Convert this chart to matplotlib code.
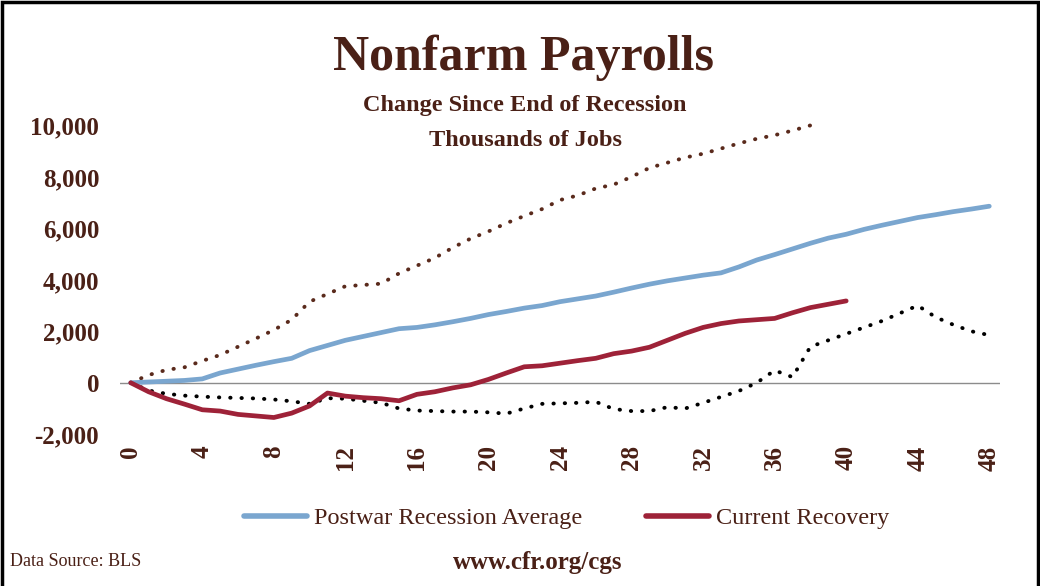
import matplotlib.pyplot as plt
from matplotlib.patches import Rectangle
from matplotlib.ticker import FuncFormatter

# months since end of recession
months_avg = list(range(49))
postwar_avg = [0, 30, 60, 90, 150, 380, 530, 680, 820, 950, 1250, 1450, 1650,
               1800, 1950, 2100, 2150, 2250, 2370, 2500, 2650, 2770, 2900, 3000,
               3150, 3260, 3370, 3520, 3680, 3830, 3960, 4070, 4180, 4270, 4500,
               4770, 4980, 5200, 5420, 5620, 5770, 5960, 6120, 6270, 6420, 6530,
               6650, 6750, 6860]

months_cur = list(range(41))
current = [0, -350, -620, -830, -1050, -1100, -1230, -1290, -1350, -1180, -900,
           -400, -520, -580, -620, -700, -450, -350, -200, -80, 130, 380, 620,
           660, 760, 860, 950, 1130, 1230, 1380, 1650, 1920, 2150, 2300, 2400,
           2450, 2500, 2720, 2920, 3050, 3180]

months_max = list(range(39))
postwar_max = [0, 300, 500, 600, 850, 1080, 1400, 1720, 2050, 2450, 3150, 3450,
               3750, 3800, 3850, 4250, 4550, 4850, 5250, 5600, 5880, 6200, 6480,
               6750, 7100, 7280, 7550, 7700, 8000, 8350, 8550, 8750, 8900, 9100,
               9300, 9480, 9620, 9800, 10000]

months_min = list(range(49))
postwar_min = [0, -300, -430, -500, -540, -570, -590, -610, -650, -720, -820,
               -600, -620, -700, -780, -1000, -1080, -1100, -1120, -1120, -1150,
               -1200, -1000, -820, -800, -780, -740, -1020, -1100, -1100, -950,
               -1000, -780, -550, -320, 0, 480, 220, 1400, 1650, 1900, 2150, 2400,
               2700, 3000, 2550, 2250, 2000, 1850]

x_ticks = list(range(0, 49, 4))
y_ticks = [-2000, 0, 2000, 4000, 6000, 8000, 10000]

brown = "#4a2016"
blue = "#7aa6cf"
red = "#9e2238"
serif = ["Liberation Serif", "DejaVu Serif"]

fig = plt.figure(figsize=(10.4, 5.86), dpi=100)
ax = fig.add_axes([120 / 1040, 0.259, 880 / 1040, 0.527])

ax.axhline(0, color="#8c8c8c", lw=1.0, zorder=1)
dots = (0, (0.1, 2.8))
ax.plot(months_max, postwar_max, color="#5a2a1c", lw=2.8, linestyle=dots,
        dash_capstyle="round", clip_on=False, zorder=2)
ax.plot(months_min, postwar_min, color="black", lw=2.8, linestyle=dots,
        dash_capstyle="round", clip_on=False, zorder=2)
ax.plot(months_avg, postwar_avg, color=blue, lw=3.4, solid_capstyle="round",
        label="Postwar Recession Average", zorder=3)
ax.plot(months_cur, current, color=red, lw=3.4, solid_capstyle="round",
        label="Current Recovery", zorder=3)

ax.set_xlim(-0.6, 48.6)
ax.set_ylim(-2000, 10000)
ax.set_xticks(x_ticks)
ax.set_yticks(y_ticks)
ax.yaxis.set_major_formatter(FuncFormatter(lambda v, p: f"{int(v):,}"))
for s in ax.spines.values():
    s.set_visible(False)
ax.tick_params(length=0)
ax.tick_params(axis="y", pad=15)
ax.tick_params(axis="x", pad=8)
for lab in ax.get_yticklabels() + ax.get_xticklabels():
    lab.set_fontfamily(serif)
    lab.set_fontweight("bold")
    lab.set_fontsize(18)
    lab.set_color(brown)
for lab in ax.get_xticklabels():
    lab.set_rotation(90)

leg = fig.legend(loc="center", bbox_to_anchor=(0.545, 1 - 518 / 586), ncol=2,
                 frameon=False, handlelength=2.6, handletextpad=0.3,
                 columnspacing=2.6, prop={"family": serif, "size": 17.5})
for t in leg.get_texts():
    t.set_color(brown)
for h in leg.get_lines():
    h.set_linewidth(4)

fig.text(0.503, 1 - 58 / 586, "Nonfarm Payrolls", ha="center", va="center",
         family=serif, fontweight="bold", fontsize=36, color=brown)
fig.text(0.505, 1 - 105 / 586, "Change Since End of Recession", ha="center",
         va="center", family=serif, fontweight="bold", fontsize=17.5, color=brown)
fig.text(0.505, 1 - 140 / 586, "Thousands of Jobs", ha="center", va="center",
         family=serif, fontweight="bold", fontsize=17.5, color=brown)
fig.text(10 / 1040, 1 - 562 / 586, "Data Source: BLS", ha="left", va="center",
         family=serif, fontsize=13, color=brown)
fig.text(0.517, 1 - 563 / 586, "www.cfr.org/cgs", ha="center", va="center",
         family=serif, fontweight="bold", fontsize=18, color=brown)

fig.patches.append(Rectangle((0.002, -0.01), 0.996, 1.006, transform=fig.transFigure,
                             fill=False, edgecolor="black", lw=2.5))

fig.savefig("out.png", dpi=100)
